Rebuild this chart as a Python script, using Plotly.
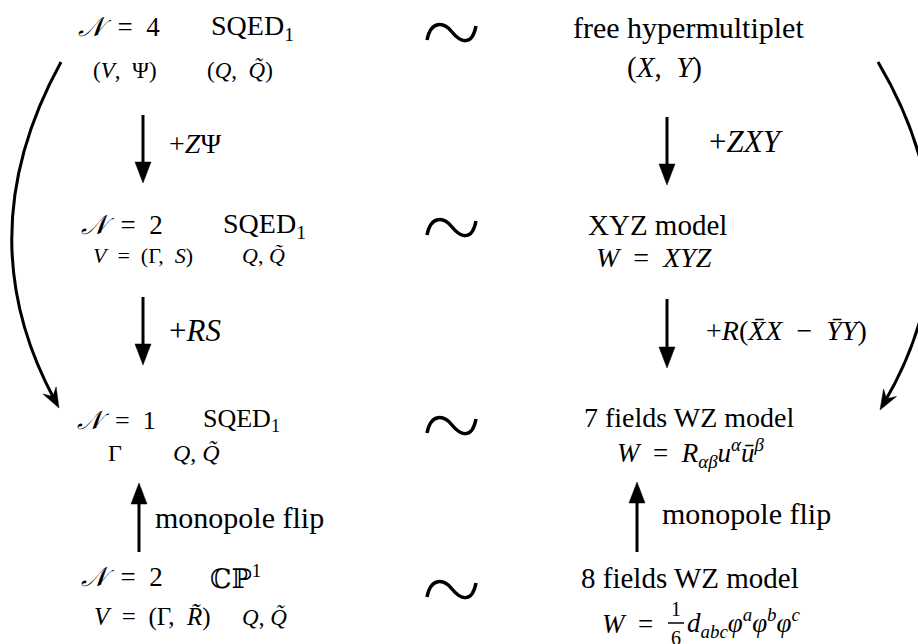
import math
import plotly.graph_objects as go

WIDTH, HEIGHT = 918, 644
FONT = "Liberation Serif, DejaVu Serif, serif"
INK = "#000000"
EN = "\u2002"   # en space, to mimic TeX math spacing
EQ = EN + "=" + EN

# ---- theory labels (text, centre x, centre y, font size) ----
label_text = [
    "<i>𝒩</i>" + EQ + "4", "SQED<sub>1</sub>", "(<i>V</i>," + EN + "Ψ)", "(<i>Q</i>," + EN + "<i>Q̃</i>)",
    "<i>𝒩</i>" + EQ + "2", "SQED<sub>1</sub>", "<i>V</i>" + EQ + "(Γ," + EN + "<i>S</i>)", "<i>Q</i>, <i>Q̃</i>",
    "<i>𝒩</i>" + EQ + "1", "SQED<sub>1</sub>", "Γ", "<i>Q</i>, <i>Q̃</i>",
    "<i>𝒩</i>" + EQ + "2", "ℂℙ<sup>1</sup>", "<i>V</i>" + EQ + "(Γ," + EN + "<i>R̃</i>)", "<i>Q</i>, <i>Q̃</i>",
    "free hypermultiplet", "(<i>X</i>," + EN + "<i>Y</i>)",
    "XYZ model", "<i>W</i>" + EQ + "<i>XYZ</i>",
    "7 fields WZ model",
    "<i>W</i>" + EQ + "<i>R</i><sub><i>αβ</i></sub><i>u</i><sup><i>α</i></sup><i>ū</i><sup><i>β</i></sup>",
    "8 fields WZ model",
]
label_x = [
    119, 252, 125, 240,
    122, 264, 143, 263,
    116, 241, 115, 196,
    122, 235, 152, 264,
    688, 664,
    657, 654,
    689, 690,
    690,
]
label_y = [
    27, 27, 70, 70,
    225, 225, 255, 255,
    420, 420, 453, 453,
    577, 577, 617, 617,
    27, 67,
    225, 257,
    417, 453,
    578,
]
label_size = [
    27, 28, 23, 23,
    27, 28, 22, 22,
    26, 26, 24, 24,
    27, 27, 25, 23,
    30, 29,
    29, 28,
    28, 27,
    29,
]

# ---- bottom-right superpotential W = (1/6) d_abc phi^a phi^b phi^c ----
w_lhs_text, w_lhs_x, w_lhs_y = "<i>W</i>" + EQ, 669, 624
frac_num, frac_den = "1", "6"
frac_x, frac_num_y, frac_den_y, frac_bar_y = 676, 609, 638, 623
frac_bar_half = 8
w_rhs_text = ("<i>d</i><sub><i>abc</i></sub><i>φ</i><sup><i>a</i></sup>"
              "<i>φ</i><sup><i>b</i></sup><i>φ</i><sup><i>c</i></sup>")
w_rhs_x, w_rhs_y = 685, 623

# ---- vertical deformation arrows ----
arrow_x = [143, 143, 139, 667, 667, 637]
arrow_tail_y = [115, 297, 552, 117, 299, 552]
arrow_tip_y = [183, 365, 483, 185, 368, 482]

# ---- arrow labels (left-anchored) ----
step_text = ["+<i>Z</i>Ψ", "+<i>RS</i>", "monopole flip",
             "+<i>ZXY</i>", "+<i>R</i>(<i>X̄X</i>" + EN + "−" + EN + "<i>ȲY</i>)", "monopole flip"]
step_x = [167, 167, 153, 707, 704, 660]
step_y = [143, 330, 517, 141, 330, 513]
step_size = [28, 31, 30, 31, 28, 30]

# ---- long curved arrows (start, control, tip) ----
curve_start = [(61, 62), (878, 62)]
curve_ctrl = [(-34, 235), (981, 236)]
curve_tip = [(59, 408), (880, 410)]

# ---- duality tildes ----
tilde_x = [452, 452, 452, 452]
tilde_y = [33, 228, 426, 590]

fig = go.Figure()
fig.add_trace(go.Scatter(x=[0, WIDTH], y=[0, HEIGHT], mode="markers",
                         marker=dict(opacity=0), hoverinfo="skip", showlegend=False))

annotations = []
for t, x, y, s in zip(label_text, label_x, label_y, label_size):
    annotations.append(dict(x=x, y=y, text=t, showarrow=False, xanchor="center", yanchor="middle",
                            font=dict(family=FONT, size=s, color=INK)))
for t, x, y, s in zip(step_text, step_x, step_y, step_size):
    annotations.append(dict(x=x, y=y, text=t, showarrow=False, xanchor="left", yanchor="middle",
                            font=dict(family=FONT, size=s, color=INK)))
annotations.append(dict(x=w_lhs_x, y=w_lhs_y, text=w_lhs_text, showarrow=False, xanchor="right",
                        yanchor="middle", font=dict(family=FONT, size=27, color=INK)))
annotations.append(dict(x=frac_x, y=frac_num_y, text=frac_num, showarrow=False, xanchor="center",
                        yanchor="middle", font=dict(family=FONT, size=20, color=INK)))
annotations.append(dict(x=frac_x, y=frac_den_y, text=frac_den, showarrow=False, xanchor="center",
                        yanchor="middle", font=dict(family=FONT, size=20, color=INK)))
annotations.append(dict(x=w_rhs_x, y=w_rhs_y, text=w_rhs_text, showarrow=False, xanchor="left",
                        yanchor="middle", font=dict(family=FONT, size=27, color=INK)))

shapes = []


def head_path(tip, direction, length, width, notch=0.0):
    dx, dy = direction
    n = math.hypot(dx, dy)
    ux, uy = dx / n, dy / n
    px, py = -uy, ux
    tx, ty = tip
    bx, by = tx - ux * length, ty - uy * length
    p1 = (bx + px * width / 2, by + py * width / 2)
    p2 = (bx - px * width / 2, by - py * width / 2)
    nx_, ny_ = tx - ux * length * (1 - notch), ty - uy * length * (1 - notch)
    return (f"M {tx},{ty} L {p1[0]:.2f},{p1[1]:.2f} L {nx_:.2f},{ny_:.2f} "
            f"L {p2[0]:.2f},{p2[1]:.2f} Z")


for x, y0, y1 in zip(arrow_x, arrow_tail_y, arrow_tip_y):
    d = 1 if y1 > y0 else -1
    shapes.append(dict(type="line", x0=x, x1=x, y0=y0, y1=y1 - d * 12,
                       line=dict(color=INK, width=3)))
    shapes.append(dict(type="path", path=head_path((x, y1), (0, d), 21, 16),
                       fillcolor=INK, line=dict(color=INK, width=0.5)))

for (sx, sy), (cx, cy), (ex, ey) in zip(curve_start, curve_ctrl, curve_tip):
    dx, dy = ex - cx, ey - cy
    n = math.hypot(dx, dy)
    endx, endy = ex - dx / n * 10, ey - dy / n * 10
    shapes.append(dict(type="path", path=f"M {sx},{sy} Q {cx},{cy} {endx:.2f},{endy:.2f}",
                       line=dict(color=INK, width=3)))
    shapes.append(dict(type="path", path=head_path((ex, ey), (dx, dy), 20, 15, notch=0.35),
                       fillcolor=INK, line=dict(color=INK, width=0.5)))

for x, y in zip(tilde_x, tilde_y):
    x0, y0 = x - 25, y + 7
    path = (f"M {x0},{y0} C {x0 + 4},{y0 - 20} {x0 + 17},{y0 - 18} {x0 + 25},{y0 - 8} "
            f"S {x0 + 45},{y0 + 7} {x0 + 49},{y0 - 14}")
    shapes.append(dict(type="path", path=path, line=dict(color=INK, width=3.5)))

shapes.append(dict(type="line", x0=frac_x - frac_bar_half, x1=frac_x + frac_bar_half,
                   y0=frac_bar_y, y1=frac_bar_y, line=dict(color=INK, width=1.5)))

fig.update_layout(
    width=WIDTH, height=HEIGHT,
    margin=dict(l=0, r=0, t=0, b=0),
    paper_bgcolor="white", plot_bgcolor="white",
    xaxis=dict(range=[0, WIDTH], visible=False, fixedrange=True),
    yaxis=dict(range=[HEIGHT, 0], visible=False, fixedrange=True),
    annotations=annotations, shapes=shapes, showlegend=False,
)
fig.write_html(
    "out.html",
    config={"displayModeBar": False},
    post_script="document.body.style.margin='0';document.body.style.padding='0';"
                "document.body.style.overflow='hidden';",
)
